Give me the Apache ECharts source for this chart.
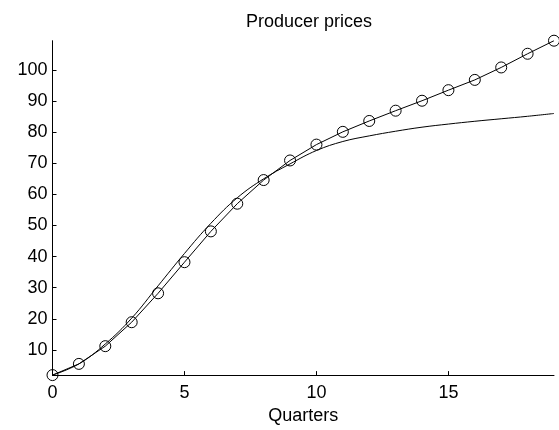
<!DOCTYPE html>
<html>
<head>
<meta charset="utf-8">
<script src="https://cdn.jsdelivr.net/npm/echarts@6/dist/echarts.min.js"></script>
<style>
html,body{margin:0;padding:0;background:#fff;}
#chart{width:559px;height:430px;}
</style>
</head>
<body>
<div id="chart"></div>
<script>
var quarters = [0,1,2,3,4,5,6,7,8,9,10,11,12,13,14,15,16,17,18,19];
var pricesMarked = [1.9, 5.5, 11.2, 18.9, 28.2, 38.2, 48.1, 57.0, 64.6, 70.9, 76.0, 80.1, 83.6, 86.9, 90.1, 93.5, 96.8, 100.8, 105.2, 109.4];
var pricesSmooth = [1.9, 5.5, 11.9, 20.2, 30.6, 41.0, 50.7, 58.9, 65.0, 69.8, 74.1, 77.0, 78.8, 80.3, 81.6, 82.6, 83.5, 84.3, 85.1, 86.0];
var xTicks = [0, 5, 10, 15];
var yTicks = [10, 20, 30, 40, 50, 60, 70, 80, 90, 100];
var titleText = 'Producer prices';
var xName = 'Quarters';

var font = 'Liberation Sans, Arial, sans-serif';
var chart = echarts.init(document.getElementById('chart'), null, {renderer: 'canvas'});
function pairs(ys) { return quarters.map(function (q, i) { return [q, ys[i]]; }); }
chart.setOption({
  animation: false,
  backgroundColor: '#fff',
  title: {
    text: titleText, left: 304, top: 8, textAlign: 'center',
    textStyle: {fontFamily: font, fontWeight: 'normal', fontSize: 18, color: '#000'}
  },
  grid: {left: 52.5, right: 5, top: 40.7, bottom: 49.3, containLabel: false},
  xAxis: {
    type: 'value', min: 0, max: 19,
    name: xName, nameLocation: 'middle', nameGap: 30,
    nameTextStyle: {fontFamily: font, fontSize: 18, color: '#000'},
    axisLine: {show: true, lineStyle: {color: '#000', width: 1}},
    axisTick: {show: true, inside: true, length: 4, customValues: xTicks, lineStyle: {color: '#000'}},
    axisLabel: {customValues: xTicks, fontFamily: font, fontSize: 18, color: '#000', margin: 9},
    splitLine: {show: false}
  },
  yAxis: {
    type: 'value', min: 1.9, max: 109.4,
    axisLine: {show: true, lineStyle: {color: '#000', width: 1}},
    axisTick: {show: true, inside: true, length: 4, customValues: yTicks, lineStyle: {color: '#000'}},
    axisLabel: {customValues: yTicks, fontFamily: font, fontSize: 18, color: '#000', margin: 5},
    splitLine: {show: false}
  },
  series: [
    {
      type: 'line', data: pairs(pricesSmooth), smooth: 0.4, showSymbol: false, symbol: 'none',
      lineStyle: {color: '#000', width: 1}
    },
    {
      type: 'line', data: pairs(pricesMarked), symbol: 'circle', symbolSize: 11, showSymbol: true,
      lineStyle: {color: '#000', width: 1},
      itemStyle: {color: 'rgba(0,0,0,0)', borderColor: '#000', borderWidth: 1}
    }
  ]
});
</script>
</body>
</html>
